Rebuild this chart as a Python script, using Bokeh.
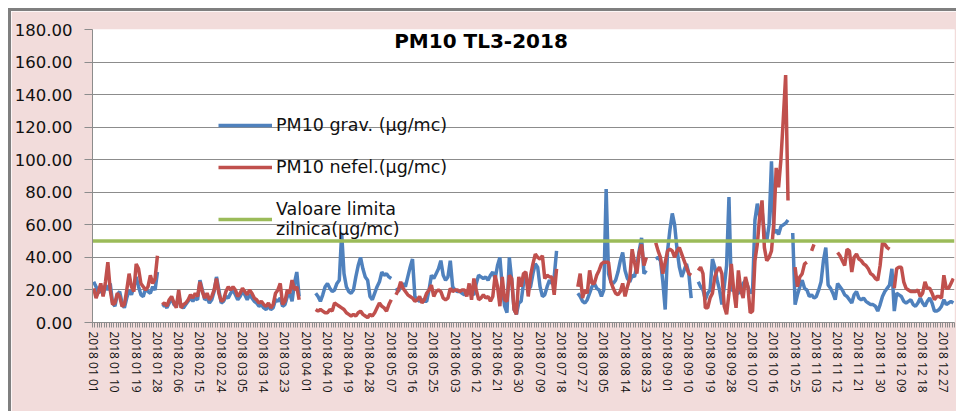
import numpy as np
import pandas as pd
from bokeh.plotting import figure
from bokeh.models import (ColumnDataSource, Range1d, FixedTicker, PrintfTickFormatter,
                          Legend, LegendItem, Label)
from bokeh.embed import file_html
from bokeh.resources import INLINE

# ---------------- data (daily values, 2018; None = missing) ----------------
TITLE = "PM10 TL3-2018"
LIMIT = 50.0
YEAR_START = "2018-01-01"
YEAR_END = "2018-12-31"

grav_jan = [25, 22, 18, 21, 17, 23, 20, 24, 12, 10, 17, 19, 12, 9, 15, 20, 17, 22, 28, 22, 17, 16, 21, 19, 18, 22, 20, 31, None, 10, 11]
grav_feb = [9, 12, 15, 11, 10, 17, 10, 9, 11, 13, 15, 13, 15, 14, 26, 20, 14, 15, 12, 14, 19, 28, 20, 12, 13, 16, 15, 18]
grav_mar = [20, 17, 14, 16, 19, 17, 14, 17, 15, 13, 12, 10, 11, 9, 8, 10, 8, 9, 14, 13, 15, 10, 11, 16, 18, 13, 24, 31, 16, None, None]
grav_apr = [None, None, None, None, 18, 16, 13, 17, 22, 24, 21, 19, 20, 24, 26, 55, 30, 22, 19, 18, 20, 28, 35, 40, 33, 28, 26, 16, 14, 18]
grav_may = [22, 25, 31, 29, 30, 28, 27, None, 21, 19, 22, 24, 22, 28, 34, 39, 16, 14, 13, 14, 13, 13, 20, 29, 27, 30, 33, 38, 29, 26, 28]
grav_jun = [38, 22, 20, 19, 19, 18, 17, 18, 19, 18, 17, 24, 29, 28, 27, 28, 26, 29, 31, 27, 35, 40, 22, 10, 6, 40, 26, 8, 5, 12]
grav_jul = [13, 24, 30, 20, 22, 30, 36, 34, 22, 16, 17, 22, 26, 24, 28, 44, None, None, None, None, None, None, None, None, 18, 16, 13, 12, 14, 18, 22]
grav_aug = [24, 21, 20, 16, 20, 82, 30, 25, 24, 26, 31, 38, 43, 32, 27, 25, 29, 28, 35, 44, 52, 30, 32, None, None, None, 39, 40, 38, 25, 8]
grav_sep = [44, 57, 67, 60, 45, 34, 28, 32, 36, 30, 15, None, None, 25, 22, 20, 14, 18, 20, 39, 34, 26, 20, 11, 22, 35, 77, 20, 20, 18]
grav_oct = [18, 20, 24, 26, 22, 18, 20, 63, 73, 65, 69, 55, 50, 60, 99, 55, 57, 54, 59, 60, 61, 63, None, 55, 11, 17, 22, 26, 21, 20, 16]
grav_nov = [17, 15, 16, 20, 25, 38, 46, 23, 21, 18, 14, 24, 22, 20, 17, 16, 14, 12, 17, 19, 15, 14, 15, 13, 12, 11, 11, 10, 7, 11]
grav_dec = [16, 19, 21, 23, 33, 7, 18, 17, 16, 13, 12, 13, 14, 11, 10, 12, 15, 12, 10, 13, 15, 12, 7, 7, 8, 10, 14, 11, 12, 13, 12]

nefel_jan = [21, 15, 19, 24, 16, 25, 37, 20, 11, 12, 18, 16, 10, 11, 20, 30, 22, 19, 36, 33, 24, 22, 20, 22, 29, 24, 27, 41, None, 11, 12]
nefel_feb = [10, 14, 16, 12, 9, 20, 9, 11, 12, 14, 17, 15, 18, 16, 25, 19, 15, 18, 14, 16, 20, 27, 18, 13, 14, 19, 22, 20]
nefel_mar = [22, 20, 16, 18, 21, 19, 17, 20, 18, 15, 14, 12, 13, 11, 10, 12, 9, 11, 18, 20, 24, 11, 13, 20, 18, 26, 20, 22, 14, None, None]
nefel_apr = [None, None, None, None, 8, 7, 8, 7, 6, 6, 8, 7, 12, 11, 10, 9, 8, 6, 5, 4, 5, 4, 6, 7, 5, 4, 3, 5, 4, 6]
nefel_may = [9, 12, 10, 9, 7, 11, 14, None, 17, 20, 25, 21, 19, 17, 16, 15, 13, 14, 16, 12, 14, 18, 20, 23, 16, 19, 20, 19, 15, 14, 15]
nefel_jun = [21, 19, 20, 20, 19, 20, 20, 16, 24, 14, 27, 20, 14, 15, 17, 15, 16, 13, 16, 29, 22, 10, 28, 14, 13, 29, 27, 8, 5, 28]
nefel_jul = [22, 30, 31, 16, 29, 36, 42, 40, 39, 41, 27, 29, 28, 28, 17, 33, None, None, None, None, None, None, None, None, 22, 30, 15, 20, 18, 32, 24]
nefel_aug = [24, 29, 32, 36, 37, 37, 37, 25, 21, 18, 17, 19, 24, 16, 22, 27, 45, 37, 30, 43, 48, 35, 40, None, None, None, 49, 44, 40, 30, 37]
nefel_sep = [44, 45, 44, 40, 44, 46, 42, 38, 34, 30, 29, None, None, 32, 34, 30, 9, 9, 15, 18, 28, 32, 34, 30, 10, 5, 18, 36, 20, 9]
nefel_oct = [32, 20, 15, 28, 22, 6, 7, 38, 48, 65, 75, 46, 38, 40, 44, 61, 95, 83, 100, 125, 152, 75, None, None, 34, 22, 28, 30, 36, 37, None]
nefel_nov = [44, 48, None, None, None, None, None, None, None, None, None, 43, 41, 38, 35, 45, 44, 31, 40, 42, 39, 38, 36, 35, 33, 30, 29, 27, 26, 35]
nefel_dec = [49, 48, 46, 45, None, 21, 33, 34, 34, 25, 21, 20, 19, 19, 19, 20, 16, 18, 25, 21, 21, 18, 14, 16, 16, 15, 29, 21, 21, 24, 27]

# ---------------- assemble ----------------
dates = pd.date_range(YEAR_START, YEAR_END, freq="D")
grav = (grav_jan + grav_feb + grav_mar + grav_apr + grav_may + grav_jun +
        grav_jul + grav_aug + grav_sep + grav_oct + grav_nov + grav_dec)
nefel = (nefel_jan + nefel_feb + nefel_mar + nefel_apr + nefel_may + nefel_jun +
         nefel_jul + nefel_aug + nefel_sep + nefel_oct + nefel_nov + nefel_dec)
assert len(grav) == len(dates) == len(nefel), (len(grav), len(nefel), len(dates))

def arr(v):
    return np.array([np.nan if a is None else a for a in v], dtype=float)

idx = np.arange(len(dates))
src = ColumnDataSource(dict(x=idx, grav=arr(grav), nefel=arr(nefel)))
x0, x1 = idx[0] - 0.5, idx[-1] + 0.5
lim_src = ColumnDataSource(dict(x=[x0, x1], y=[LIMIT, LIMIT]))

label_every = 9
tick_pos = list(range(0, len(dates), label_every))
tick_labels = {int(i): dates[i].strftime("%Y %m %d") for i in tick_pos}

# ---------------- figure ----------------
PINK = "#F2DCDB"
GRID = "#8C8C8C"

p = figure(width=948, height=403, output_backend="svg", toolbar_location=None,
           x_range=Range1d(x0, x1), y_range=Range1d(0, 180),
           min_border_left=81, min_border_right=5, min_border_top=18, min_border_bottom=92)
p.margin = (8, 0, 0, 8)
p.styles = {"border-left": "3px solid #7F7F7F", "border-top": "3px solid #7F7F7F"}
p.border_fill_color = PINK
p.background_fill_color = "white"
p.outline_line_color = None

r_g = p.line("x", "grav", source=src, line_color="#4F81BD", line_width=3.5)
r_n = p.line("x", "nefel", source=src, line_color="#C0504D", line_width=3.5)
r_l = p.line("x", "y", source=lim_src, line_color="#9BBB59", line_width=3.5)

# y axis
p.yaxis.ticker = FixedTicker(ticks=list(range(0, 181, 20)))
p.yaxis.formatter = PrintfTickFormatter(format="%.2f")
p.yaxis.major_label_text_font = "DejaVu Sans"
p.yaxis.major_label_text_font_size = "16.5px"
p.yaxis.major_label_text_color = "#111111"
p.yaxis.axis_line_color = GRID
p.yaxis.major_tick_line_color = GRID
p.yaxis.major_tick_out = 8
p.yaxis.major_tick_in = 0
p.yaxis.minor_tick_line_color = None
p.yaxis.major_label_standoff = 12

# x axis
p.xaxis.ticker = FixedTicker(ticks=tick_pos, minor_ticks=list(np.arange(x0, x1 + 1, 1.0)))
p.xaxis.major_label_overrides = tick_labels
p.xaxis.major_label_orientation = "vertical"
p.xaxis.major_label_text_font = "Open Sans"
p.xaxis.major_label_text_font_size = "12px"
p.xaxis.major_label_text_color = "#111111"
p.xaxis.axis_line_color = GRID
p.xaxis.major_tick_out = 0
p.xaxis.major_tick_in = 0
p.xaxis.minor_tick_out = 5
p.xaxis.minor_tick_in = 0
p.xaxis.minor_tick_line_color = GRID
p.xaxis.major_label_standoff = 4

p.xgrid.grid_line_color = None
p.ygrid.grid_line_color = GRID
p.ygrid.ticker = FixedTicker(ticks=list(range(0, 181, 20)))

# title inside plot
p.add_layout(Label(x=164, y=173, text=TITLE, text_align="center", text_baseline="middle",
                   text_font="DejaVu Sans", text_font_style="bold", text_font_size="20px",
                   text_color="black"))

legend = Legend(items=[LegendItem(label="PM10 grav. (µg/mc)", renderers=[r_g]),
                       LegendItem(label="PM10 nefel.(µg/mc)", renderers=[r_n]),
                       LegendItem(label="Valoare limita\nzilnica(µg/mc)", renderers=[r_l])],
                location=(126, 83), glyph_width=54, glyph_height=20, label_height=20,
                label_standoff=4, spacing=22, padding=0, margin=0,
                border_line_color=None, background_fill_alpha=0,
                label_text_font="DejaVu Sans", label_text_font_size="17.5px",
                label_text_color="#111111")
p.add_layout(legend)

open("out.html", "w").write(file_html(p, INLINE))
